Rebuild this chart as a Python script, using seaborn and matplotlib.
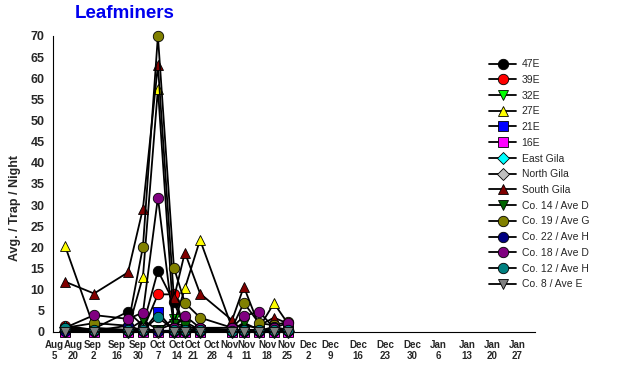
import matplotlib
matplotlib.use("Agg")
import matplotlib.pyplot as plt
import seaborn as sns
import numpy as np
import pandas as pd

# sample dates, expressed as days along the x axis
sample_day = [5.7, 19.5, 35.6, 42.7, 49.8, 57.4, 62.6, 69.8, 85.0, 90.6, 97.8, 104.9, 111.5]

# x tick labels and where they sit
tick_labels = ["Aug\n5", "Aug\n20", "Sep\n2", "Sep\n16", "Sep\n30", "Oct\n7", "Oct\n14",
               "Oct\n21", "Oct\n28", "Nov\n4", "Nov\n11", "Nov\n18", "Nov\n25", "Dec\n2",
               "Dec\n9", "Dec\n16", "Dec\n23", "Dec\n30", "Jan\n6", "Jan\n13", "Jan\n20", "Jan\n27"]
tick_pos = [0.5, 9.5, 19.0, 30.4, 40.3, 49.8, 58.9, 66.4, 75.5, 84.0, 92.0, 101.6,
            111.0, 121.0, 131.5, 144.8, 157.6, 170.4, 182.7, 196.5, 208.4, 220.2]

# trap catches, avg / trap / night
s_47e = [0.5, 0.8, 4.8, 1.5, 14.5, 7.0, 1.0, 1.0, 0.5, 0.5, 0.5, 0.5, 0.5]
s_39e = [1.5, 0.5, 0.5, 0.5, 8.9, 8.9, 0.5, 0.5, 0.3, 0.5, 0.5, 0.5, 0.3]
s_32e = [0.3, 0.3, 0.3, 0.5, 0.5, 3.1, 2.4, 0.5, 0.3, 0.5, 0.3, 0.3, 0.3]
s_27e = [20.4, 1.0, 0.5, 13.1, 57.5, 2.0, 10.3, 21.8, 1.0, 1.5, 1.0, 6.8, 2.0]
s_21e = [0.2, 0.2, 0.2, 0.2, 4.7, 0.3, 0.2, 0.2, 0.2, 0.2, 0.2, 1.0, 0.2]
s_16e = [0.0, 0.0, 0.0, 0.0, 0.0, 0.0, 0.0, 0.0, 0.0, 0.0, 0.0, 0.0, 0.0]
s_east_gila = [1.2, 0.2, 0.1, 0.2, 0.2, 0.1, 0.1, 0.1, 0.1, 0.1, 0.1, 0.1, 0.1]
s_north_gila = [0.3, 0.3, 0.3, 1.0, 0.0, 0.2, 0.2, 0.2, 0.2, 0.2, 0.2, 0.2, 0.2]
s_south_gila = [11.9, 9.1, 14.1, 29.2, 63.1, 8.0, 18.8, 9.1, 2.8, 10.7, 1.5, 3.4, 2.0]
s_co14 = [0.5, 0.5, 0.5, 2.8, 0.5, 2.0, 1.5, 0.5, 0.5, 2.2, 0.5, 0.5, 0.5]
s_co19 = [1.0, 2.1, 1.5, 20.2, 70.0, 15.2, 6.9, 3.4, 1.0, 6.9, 2.1, 1.6, 2.4]
s_co22 = [0.3, 0.3, 1.5, 0.3, 0.3, 0.3, 0.3, 0.3, 0.3, 0.3, 0.3, 1.2, 0.5]
s_co18 = [1.0, 4.0, 3.1, 4.6, 31.8, 1.0, 3.8, 1.0, 1.0, 3.8, 4.8, 1.0, 2.1]
s_co12 = [1.0, 0.5, 0.5, 0.5, 3.5, 0.5, 0.5, 0.5, 0.3, 0.5, 0.5, 0.5, 0.5]
s_co8 = [0.0, 0.0, 0.0, 0.0, 0.0, 0.0, 0.0, 0.0, 0.0, 0.0, 0.0, 0.0, 0.0]

series = [
    ("47E", s_47e, "o", "#000000"),
    ("39E", s_39e, "o", "#FF0000"),
    ("32E", s_32e, "v", "#00FF00"),
    ("27E", s_27e, "^", "#FFFF00"),
    ("21E", s_21e, "s", "#0000FF"),
    ("16E", s_16e, "s", "#FF00FF"),
    ("East Gila", s_east_gila, "D", "#00FFFF"),
    ("North Gila", s_north_gila, "D", "#C0C0C0"),
    ("South Gila", s_south_gila, "^", "#800000"),
    ("Co. 14 / Ave D", s_co14, "v", "#006400"),
    ("Co. 19 / Ave G", s_co19, "o", "#808000"),
    ("Co. 22 / Ave H", s_co22, "o", "#000080"),
    ("Co. 18 / Ave D", s_co18, "o", "#800080"),
    ("Co. 12 / Ave H", s_co12, "o", "#008080"),
    ("Co. 8 / Ave E", s_co8, "v", "#808080"),
]

sns.set_style("white")
plt.rcParams["font.family"] = ["Liberation Sans", "DejaVu Sans"]

fig = plt.figure(figsize=(6.25, 3.81), dpi=100)
ax = fig.add_axes([53 / 625, 1 - 332 / 381, 482 / 625, 296 / 381])

for i, (name, vals, mk, col) in enumerate(series):
    df = pd.DataFrame({"day": sample_day, "val": vals})
    msize = 6.5 if mk in ("D", "s") else 7.5
    sns.lineplot(data=df, x="day", y="val", ax=ax, color="black", linewidth=1.3,
                 marker=mk, markersize=msize, markerfacecolor=col,
                 markeredgecolor="black", markeredgewidth=0.6,
                 label=name, clip_on=False, zorder=3 + i)

ax.set_xlim(0, 228.8)
ax.set_ylim(0, 70)
ax.set_yticks(np.arange(0, 71, 5))
ax.set_xticks(tick_pos)
ax.set_xticklabels(tick_labels, fontsize=7, fontweight="bold", linespacing=1.05)
ax.set_xticks(np.arange(2.4, 229, 14), minor=True)
ax.tick_params(axis="x", which="major", length=0, pad=6)
ax.tick_params(axis="x", which="minor", length=4, width=0.8, direction="out", color="black")
ax.tick_params(axis="y", length=4, width=0.8, direction="out", color="black", pad=2)
for lab in ax.get_yticklabels():
    lab.set_fontweight("bold")
    lab.set_fontsize(9)

for s in ["top", "right"]:
    ax.spines[s].set_visible(False)
for s in ["left", "bottom"]:
    ax.spines[s].set_color("black")
    ax.spines[s].set_linewidth(0.8)

ax.set_xlabel("")
ax.set_ylabel("Avg. / Trap / Night", fontsize=9, fontweight="bold")
ax.yaxis.set_label_coords(-0.066, 0.42)

fig.text(125 / 625, 1 - 14 / 381, "Leafminers", color="#0000EE", fontsize=13.5,
         fontweight="bold", ha="center", va="center")

ax.legend(loc="upper left", bbox_to_anchor=(484 / 625, 1 - 54 / 381),
          bbox_transform=fig.transFigure, frameon=False, fontsize=7.5,
          handlelength=2.6, handletextpad=0.5, labelspacing=0.55, borderpad=0)

plt.savefig("out.png", dpi=100)
